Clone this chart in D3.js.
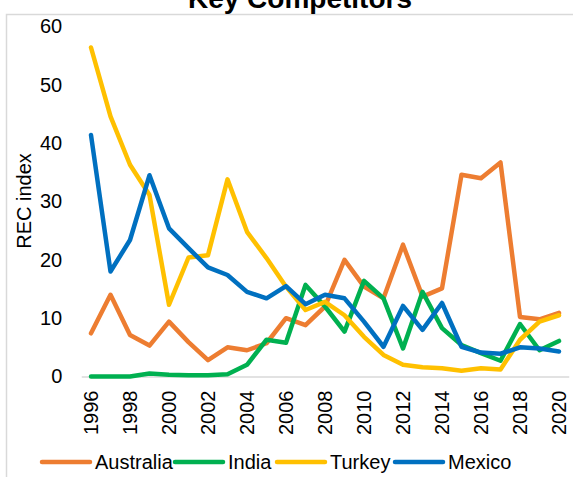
<!DOCTYPE html>
<html>
<head>
<meta charset="utf-8">
<script src="https://cdn.jsdelivr.net/npm/d3@7"></script>
<style>
  html, body { margin: 0; padding: 0; background: #fff; }
  svg { display: block; font-family: "Liberation Sans", Arial, sans-serif; }
</style>
</head>
<body>
<svg id="chart" width="573" height="477"></svg>
<script>
// Years on the category axis
const years = [1996, 1997, 1998, 1999, 2000, 2001, 2002, 2003, 2004, 2005, 2006, 2007, 2008,
               2009, 2010, 2011, 2012, 2013, 2014, 2015, 2016, 2017, 2018, 2019, 2020];

// REC index per competitor
const australia = [7.4, 14.0, 7.1, 5.3, 9.4, 5.9, 2.8, 5.0, 4.5, 5.7, 10.0, 8.8, 12.0,
                   20.0, 15.4, 13.4, 22.6, 13.7, 15.1, 34.6, 34.0, 36.7, 10.2, 9.8, 10.9];
const india     = [0.0, 0.0, 0.0, 0.5, 0.3, 0.2, 0.2, 0.4, 2.0, 6.3, 5.8, 15.7, 12.0,
                   7.7, 16.4, 13.4, 4.8, 14.5, 8.3, 5.4, 4.0, 2.7, 9.0, 4.5, 6.1];
const turkey    = [56.4, 44.6, 36.3, 31.1, 12.3, 20.4, 20.8, 33.8, 24.8, 20.3, 15.4, 11.4, 12.8,
                   10.5, 6.8, 3.7, 2.0, 1.6, 1.4, 1.0, 1.4, 1.2, 6.3, 9.4, 10.5];
const mexico    = [41.4, 18.0, 23.4, 34.5, 25.4, 22.0, 18.7, 17.4, 14.5, 13.4, 15.5, 12.4, 14.0,
                   13.4, 9.4, 5.1, 12.1, 8.0, 12.6, 5.1, 4.1, 3.9, 5.0, 4.8, 4.3];

const seriesNames  = ["Australia", "India", "Turkey", "Mexico"];
const seriesColors = ["#ED7D31", "#00B050", "#FFC000", "#0070C0"];
const yTicks = [0, 10, 20, 30, 40, 50, 60];
const xTickYears = years.filter(y => y % 2 === 0);

const series = [australia, india, turkey, mexico].map((vals, i) => ({
  name: seriesNames[i], color: seriesColors[i], values: vals
}));

const svg = d3.select("#chart");
const plot = { left: 81.25, right: 568.75, top: 26.5, bottom: 376.5 };

const x = d3.scaleBand().domain(years).range([plot.left, plot.right]);
const y = d3.scaleLinear().domain([0, 60]).range([plot.bottom, plot.top]);
const cx = yr => x(yr) + x.bandwidth() / 2;

// Outer chart frame
svg.append("rect")
  .attr("x", 6.5).attr("y", 14.5)
  .attr("width", 620).attr("height", 520)
  .attr("fill", "none").attr("stroke", "#d9d9d9").attr("stroke-width", 1.5);

// Title
svg.append("text")
  .attr("x", 300).attr("y", 8)
  .attr("text-anchor", "middle")
  .attr("font-weight", "bold")
  .attr("font-size", 28)
  .attr("fill", "#000")
  .text("Key Competitors");

// Y axis (labels only)
const yAxis = svg.append("g")
  .attr("transform", `translate(${plot.left},0)`)
  .call(d3.axisLeft(y).tickValues(yTicks).tickSize(0).tickPadding(19));
yAxis.select(".domain").remove();
yAxis.selectAll("text")
  .attr("font-size", 20)
  .attr("font-family", "Liberation Sans, Arial, sans-serif")
  .attr("fill", "#000");

// X axis
const xAxis = svg.append("g")
  .attr("transform", `translate(0,${plot.bottom})`)
  .call(d3.axisBottom(x).tickValues(xTickYears).tickSize(0));
xAxis.select(".domain")
  .attr("stroke", "#d9d9d9").attr("stroke-width", 1.5);
xAxis.selectAll("text")
  .attr("font-size", 20)
  .attr("font-family", "Liberation Sans, Arial, sans-serif")
  .attr("fill", "#000")
  .attr("text-anchor", "end")
  .attr("transform", "rotate(-90)")
  .attr("x", -14)
  .attr("y", 0)
  .attr("dy", "0.35em");

// Y axis title
svg.append("text")
  .attr("transform", "translate(31,201) rotate(-90)")
  .attr("text-anchor", "middle")
  .attr("font-size", 20)
  .attr("fill", "#000")
  .text("REC index");

// Series lines
const line = d3.line()
  .x((d, i) => cx(years[i]))
  .y(d => y(d));

svg.append("g").selectAll("path")
  .data(series)
  .join("path")
  .attr("d", d => line(d.values))
  .attr("fill", "none")
  .attr("stroke", d => d.color)
  .attr("stroke-width", 4.5)
  .attr("stroke-linejoin", "round")
  .attr("stroke-linecap", "round");

// Legend
const legendX = [42, 175, 277, 395];
const legend = svg.append("g");
series.forEach((s, i) => {
  const g = legend.append("g").attr("transform", `translate(${legendX[i]},462)`);
  g.append("line")
    .attr("x1", 0).attr("x2", 48)
    .attr("stroke", s.color).attr("stroke-width", 4.5)
    .attr("stroke-linecap", "round");
  g.append("text")
    .attr("x", 53).attr("y", 0).attr("dy", "0.35em")
    .attr("font-size", 20)
    .attr("fill", "#000")
    .text(s.name);
});
</script>
</body>
</html>
